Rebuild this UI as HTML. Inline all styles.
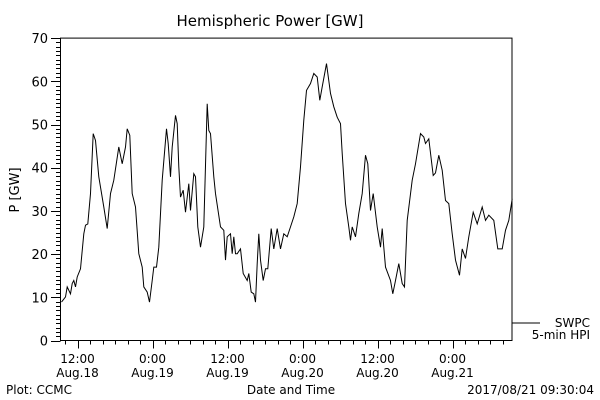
<!DOCTYPE html>
<html><head><meta charset="utf-8"><style>
body{margin:0;background:#fff;width:600px;height:400px;overflow:hidden}
svg{display:block;font-family:"DejaVu Sans","Liberation Sans",sans-serif}
</style></head><body>
<svg id="chart" width="600" height="400">
<text x="270" y="26" font-size="15" text-anchor="middle">Hemispheric Power [GW]</text>
<text transform="translate(19,190) rotate(-90)" font-size="13" text-anchor="middle">P [GW]</text>
<text x="291" y="394" font-size="12" text-anchor="middle">Date and Time</text>
<text x="6" y="394" font-size="12">Plot: CCMC</text>
<text x="594" y="394" font-size="12" text-anchor="end">2017/08/21 09:30:04</text>
<line x1="512" y1="323" x2="540" y2="323" stroke="#000"/>
<text x="590" y="327" font-size="12" text-anchor="end">SWPC</text>
<text x="590" y="339" font-size="12" text-anchor="end">5-min HPI</text>
<g id="axes"></g>
<path id="series" fill="none" stroke="#000" stroke-width="1"/>
</svg>
<script>
const hours=[0.16,0.8,1.07,1.6,1.87,2.13,2.4,2.67,3.2,3.73,4.0,4.37,4.8,5.23,5.6,6.13,6.93,7.47,8.0,8.53,9.33,9.87,10.4,10.67,11.09,11.47,12.0,12.53,13.07,13.33,13.87,14.24,14.67,14.93,15.36,15.73,16.27,16.96,17.23,17.6,17.87,18.4,18.67,18.93,19.2,19.63,20.0,20.53,20.8,21.33,21.6,21.97,22.4,22.93,23.47,23.73,24.0,24.53,24.8,25.6,26.13,26.4,26.67,27.2,27.47,27.73,28.0,28.27,28.8,29.23,29.87,30.13,30.51,30.93,31.2,31.47,31.73,32.0,32.43,32.8,33.17,33.71,34.13,34.67,35.2,35.73,36.27,36.8,37.33,37.87,38.4,38.93,39.36,40.0,40.53,41.07,41.49,41.87,42.56,43.2,43.73,44.27,44.8,45.07,45.6,46.13,46.4,46.67,47.2,47.73,48.27,48.8,49.17,49.6,50.03,50.67,51.2,51.47,52.0,52.8,53.17,53.6,54.13,54.67,55.04,55.47,56.27,56.8,57.6,58.13,58.4,58.93,59.63,60.0,60.53,61.07,61.6,62.13,62.67,63.2,63.84,64.27,64.8,65.33,66.03,66.67,67.47,68.0,68.53,69.33,69.97,70.67,71.2,71.73,72.27];
const power=[8.9,10.1,12.4,10.8,13.2,13.9,12.4,14.7,16.6,24.7,26.7,27.0,34.0,47.9,46.3,37.9,30.9,25.9,34.0,37.1,44.8,40.9,44.8,49.0,47.5,34.0,30.9,20.1,17.0,12.4,11.2,8.9,13.9,17.0,17.0,21.6,37.1,49.0,45.6,37.9,44.8,52.1,50.2,40.2,33.2,34.8,29.7,36.3,30.1,38.6,37.9,26.3,21.6,26.3,54.8,48.6,47.9,37.9,34.0,26.3,25.5,18.6,24.0,24.7,20.1,24.0,20.1,20.1,21.2,15.5,13.9,15.5,11.2,10.8,8.9,17.8,24.7,18.6,13.9,16.6,16.6,25.9,21.2,25.9,21.2,24.7,24.0,26.3,28.6,31.7,40.2,51.0,57.9,59.5,61.8,61.0,55.6,58.7,64.1,57.2,54.1,51.7,50.2,43.3,31.7,26.3,23.2,26.3,24.0,29.4,34.0,42.9,40.9,30.1,34.0,26.3,21.6,25.9,17.0,13.9,10.8,13.9,17.8,13.2,12.4,27.8,37.1,40.9,47.9,47.1,45.6,46.7,38.2,38.8,42.9,39.4,32.4,31.7,24.7,18.6,15.1,21.2,19.0,24.0,29.7,27.0,30.9,27.8,29.0,27.8,21.2,21.2,25.5,27.8,32.8];
const yTicks=[0,10,20,30,40,50,60,70];
const xTickLabels=[["12:00","Aug.18"],["0:00","Aug.19"],["12:00","Aug.19"],["0:00","Aug.20"],["12:00","Aug.20"],["0:00","Aug.21"]];
const X0=60.5,X1=512,Y0=340.5,PXH=75/12,PXV=4.32;
const xs=h=>X0+h*PXH, ys=v=>Y0-v*PXV;
const ns="http://www.w3.org/2000/svg",g=document.getElementById('axes');
function add(tag,at){const e=document.createElementNS(ns,tag);for(const k in at)e.setAttribute(k,at[k]);g.appendChild(e);return e;}
const frame=add('rect',{x:X0,y:ys(70),width:X1-X0,height:Y0-ys(70),fill:'none',stroke:'#000'});


for(let v=0;v<=70;v++){const y=Math.round(ys(v))+0.5;const t=add('line',{x1:v%10?56:51,x2:X0,y1:y,y2:y,stroke:'#000'});

}
yTicks.forEach(v=>{const t=add('text',{x:48,y:ys(v)+5,'font-size':13,'text-anchor':'end'});t.textContent=v;

});
const firstMajor=12-9.28;
for(let h=firstMajor-2;h<=72.3;h+=2){if(h<0)continue;const x=Math.round(xs(h))+0.5;const maj=Math.abs(((h-firstMajor)%12))<0.01;
const t=add('line',{x1:x,x2:x,y1:Y0,y2:maj?Y0+8:Y0+4,stroke:'#000'});

}
xTickLabels.forEach((l,i)=>{const x=xs(firstMajor+12*i);
const a=add('text',{x:x,y:363,'font-size':12,'text-anchor':'middle'});a.textContent=l[0];


const b=add('text',{x:x,y:377,'font-size':12,'text-anchor':'middle'});b.textContent=l[1];

});
document.getElementById('series').setAttribute('d',hours.map((h,i)=>(i?'L':'M')+xs(h).toFixed(1)+','+ys(power[i]).toFixed(1)).join(''));
</script>
</body></html>
